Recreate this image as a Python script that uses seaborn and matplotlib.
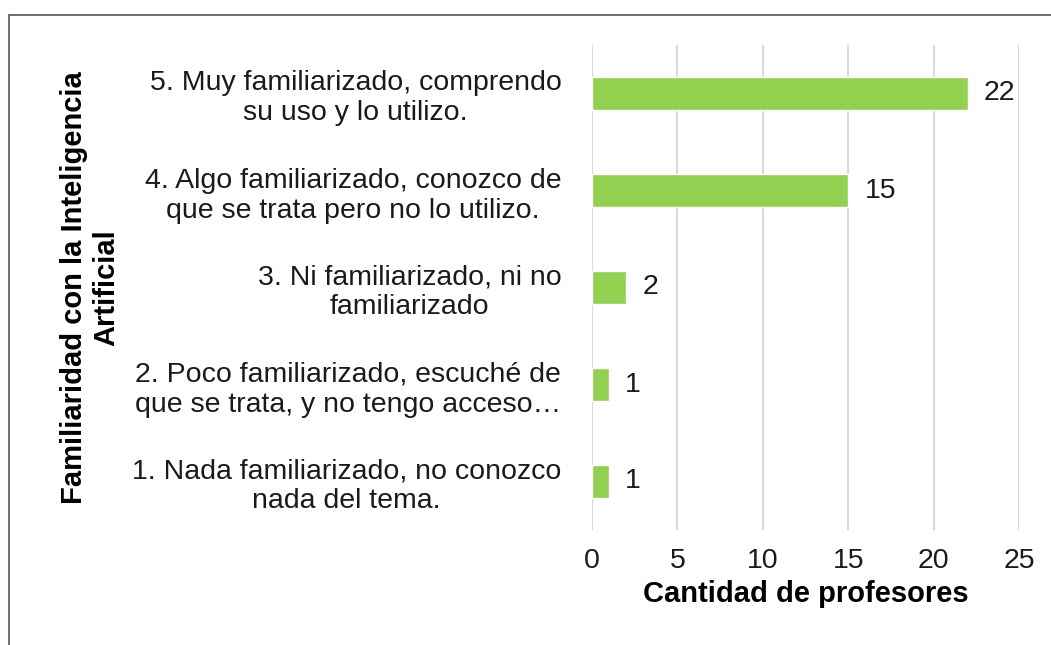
import matplotlib
matplotlib.use("Agg")
import matplotlib.pyplot as plt
import seaborn as sns
import pandas as pd
from matplotlib.patches import Rectangle

categories = [
    "5. Muy familiarizado, comprendo\nsu uso y lo utilizo.",
    "4. Algo familiarizado, conozco de\nque se trata pero no lo utilizo.",
    "3. Ni familiarizado, ni no\nfamiliarizado",
    "2. Poco familiarizado, escuché de\nque se trata, y no tengo acceso…",
    "1. Nada familiarizado, no conozco\nnada del tema.",
]
values = [22, 15, 2, 1, 1]
x_ticks = [0, 5, 10, 15, 20, 25]
x_label = "Cantidad de profesores"
y_label = "Familiaridad con la Inteligencia\nArtificial"

sns.set_theme(style="white")
plt.rcParams["font.family"] = ["Liberation Sans", "DejaVu Sans"]

df = pd.DataFrame({"cat": categories, "val": values})

fig = plt.figure(figsize=(10.51, 6.45), dpi=100)
ax = fig.add_axes([592 / 1051, 1 - 530 / 645, (1019 - 592) / 1051, (530 - 45) / 645])

sns.barplot(data=df, y="cat", x="val", color="#92D050", saturation=1,
            width=0.34, orient="h", ax=ax, zorder=3)

fs = 20.5
ax.set_xlim(0, 25)
ax.set_xticks(x_ticks)
ax.set_xticklabels([str(t) for t in x_ticks])
ax.grid(axis="x", color="#D9D9D9", linewidth=1.5, zorder=0)
ax.grid(axis="y", visible=False)
for s in ax.spines.values():
    s.set_visible(False)

ax.tick_params(axis="y", length=0, pad=22, labelsize=fs, labelcolor="#1a1a1a")
ax.tick_params(axis="x", length=0, pad=13, labelsize=fs, labelcolor="#1a1a1a")
for lbl in ax.get_yticklabels():
    lbl.set_multialignment("center")

for p, v in zip(ax.patches, values):
    ax.text(p.get_width() + 0.95, p.get_y() + p.get_height() / 2, str(v),
            va="center", ha="left", fontsize=fs, color="#1a1a1a")

ax.set_xlabel(x_label, fontsize=21, fontweight="bold", labelpad=4, color="#000000")
ax.set_ylabel(y_label, fontsize=21, fontweight="bold", color="#000000")
ax.yaxis.set_label_coords(-1.175, 0.5, transform=ax.transAxes)
ax.yaxis.label.set_multialignment("center")
ax.yaxis.label.set_va("center")

fig.patches.append(Rectangle((9 / 1051, -0.05), 1.1, 1 - 15 / 645 + 0.05,
                             transform=fig.transFigure, fill=False,
                             edgecolor="#555555", linewidth=1.2))

fig.savefig("out.png", dpi=100)
